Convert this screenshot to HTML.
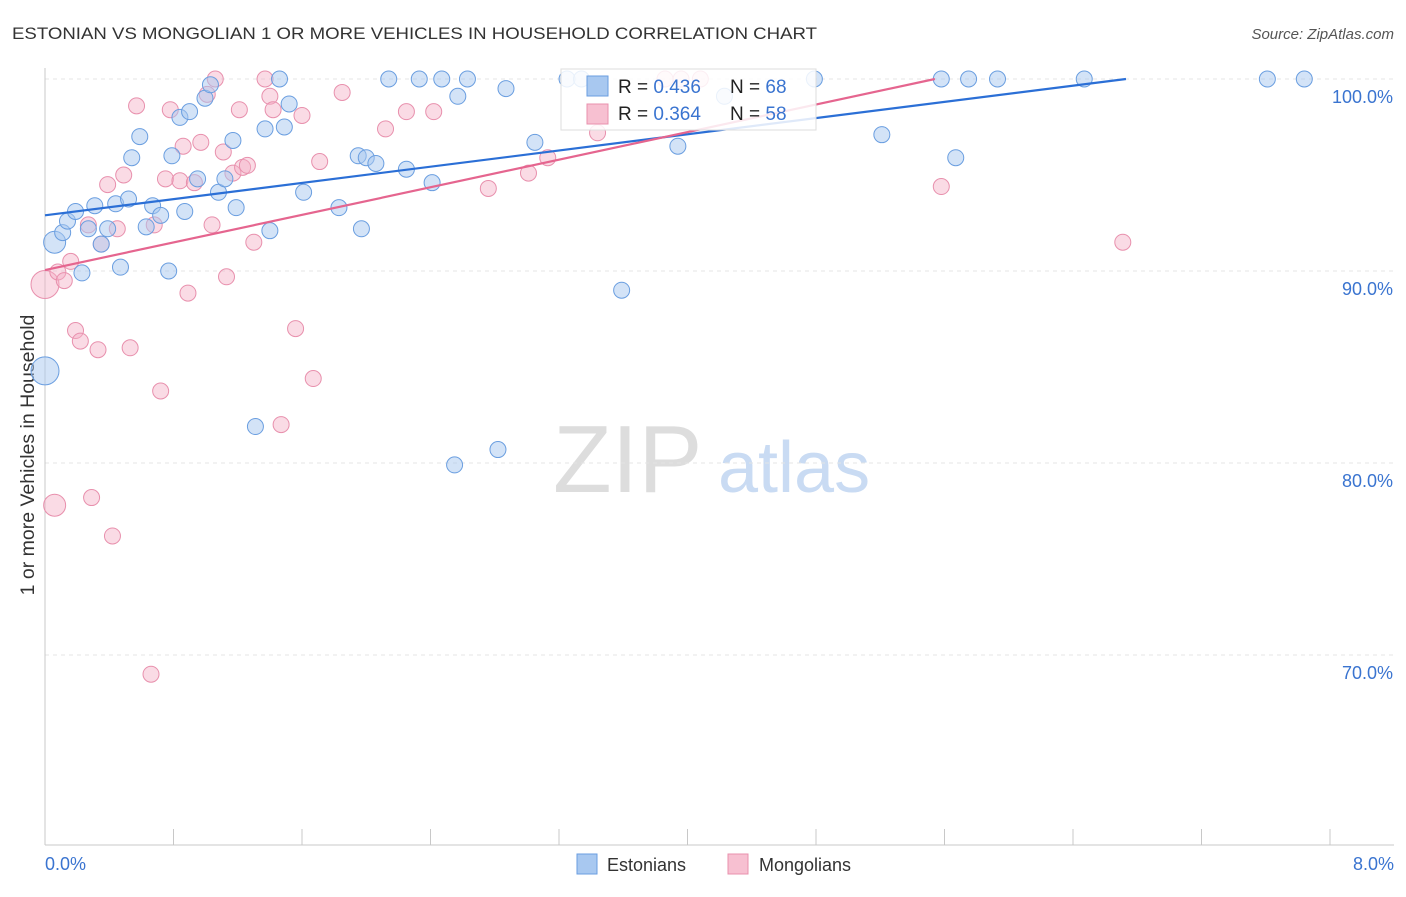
<!DOCTYPE html>
<html><head><meta charset="utf-8"><style>
body{margin:0;background:#fff;font-family:"Liberation Sans",sans-serif}
svg text{font-family:"Liberation Sans",sans-serif}
</style></head><body>
<svg id="c" width="1406" height="892">
<text x="12" y="39" font-size="17" fill="#333" textLength="805" lengthAdjust="spacingAndGlyphs">ESTONIAN VS MONGOLIAN 1 OR MORE VEHICLES IN HOUSEHOLD CORRELATION CHART</text>
<text x="1394" y="39" font-size="15" fill="#555" font-style="italic" text-anchor="end">Source: ZipAtlas.com</text>
<text transform="translate(34,455) rotate(-90)" font-size="19.5" fill="#333" text-anchor="middle">1 or more Vehicles in Household</text>
<g><text x="553" y="492" font-size="96" font-family="Liberation Serif" fill="#ddd">ZIP</text><text x="718" y="492" font-size="72" fill="#c9dbf3">atlas</text></g>
<g id="grid"></g><g id="pts"></g><g id="trend"></g>
<g>
<rect x="561" y="69" width="255" height="61" fill="#fff" fill-opacity="0.85" stroke="#ddd"/>
<rect x="587" y="76" width="21" height="20" fill="#a8c8f0" stroke="#6a9ee0"/>
<rect x="587" y="104" width="21" height="20" fill="#f7c0d1" stroke="#e890ad"/>
<text x="618" y="93" font-size="19" fill="#222">R = <tspan fill="#3a74d0">0.436</tspan></text>
<text x="730" y="93" font-size="19" fill="#222">N = <tspan fill="#3a74d0">68</tspan></text>
<text x="618" y="120" font-size="19" fill="#222">R = <tspan fill="#3a74d0">0.364</tspan></text>
<text x="730" y="120" font-size="19" fill="#222">N = <tspan fill="#3a74d0">58</tspan></text>
</g>
<g>
<rect x="577" y="854" width="20" height="20" fill="#a8c8f0" stroke="#6a9ee0"/>
<text x="607" y="871" font-size="18" fill="#333">Estonians</text>
<rect x="728" y="854" width="20" height="20" fill="#f7c0d1" stroke="#e890ad"/>
<text x="759" y="871" font-size="18" fill="#333">Mongolians</text>
</g>
</svg>
<script>
const xTicks=[0,0.8,1.6,2.4,3.2,4,4.8,5.6,6.4,7.2,8];
const yTicks=[100,90,80,70];
const yTickLabels=["100.0%","90.0%","80.0%","70.0%"];
const xEndLabels=["0.0%","8.0%"];
const blueX=[0.06,0,0.11,0.14,0.19,0.23,0.27,0.31,0.35,0.39,0.44,0.47,0.52,0.54,0.59,0.63,0.67,0.72,0.77,0.79,0.84,0.87,0.90,0.95,0.996,1.03,1.08,1.12,1.17,1.19,1.31,1.37,1.40,1.46,1.49,1.52,1.61,1.83,1.95,1.97,2.00,2.06,2.14,2.25,2.33,2.41,2.47,2.55,2.57,2.63,2.82,2.87,3.05,3.25,3.34,3.59,3.94,4.23,4.79,5.21,5.58,5.67,5.75,5.93,6.47,7.61,7.84];
const blueY=[91.5,84.8,92.0,92.6,93.1,89.9,92.2,93.4,91.4,92.2,93.5,90.2,93.75,95.9,97.0,92.3,93.4,92.9,90.0,96.0,98.0,93.1,98.3,94.8,99.0,99.7,94.1,94.8,96.8,93.3,81.9,97.4,92.1,100,97.5,98.7,94.1,93.3,96.0,92.2,95.9,95.6,100,95.3,100,94.6,100,79.9,99.1,100,80.7,99.5,96.7,100,100,89.0,96.5,99.1,100,97.1,100,95.9,100,100,100,100,100];
const blueR=[11,14];
const pinkX=[0,0.06,0.08,0.12,0.16,0.19,0.22,0.27,0.29,0.33,0.35,0.39,0.42,0.45,0.49,0.53,0.57,0.66,0.68,0.72,0.75,0.78,0.84,0.86,0.89,0.93,0.97,1.01,1.04,1.06,1.11,1.13,1.17,1.21,1.23,1.26,1.30,1.37,1.40,1.42,1.47,1.56,1.60,1.67,1.71,1.85,2.12,2.25,2.42,2.76,3.01,3.13,3.44,3.86,3.96,4.08,5.58,6.71];
const pinkY=[89.3,77.8,89.95,89.5,90.5,86.9,86.35,92.4,78.2,85.9,91.4,94.5,76.2,92.2,95.0,86.0,98.6,69.0,92.4,83.75,94.8,98.4,94.7,96.5,88.85,94.6,96.7,99.2,92.4,100,96.2,89.7,95.1,98.4,95.4,95.5,91.5,100,99.1,98.4,82.0,87.0,98.1,84.4,95.7,99.3,97.4,98.3,98.3,94.3,95.1,95.9,97.2,100,100,100,94.4,91.5];
const pinkR=[14,11];
const blueTrend=[92.9,1.055];
const pinkTrend=[90.05,1.796];
const X=v=>45+v/8*1285, Y=v=>79+(100-v)*19.2;
const NS='http://www.w3.org/2000/svg';
function mk(t,a,p){const e=document.createElementNS(NS,t);for(const k in a)e.setAttribute(k,a[k]);p.appendChild(e);return e;}
const grid=document.getElementById('grid');
yTicks.forEach((t,i)=>{
 const l=mk('line',{x1:45,x2:1394,y1:Y(t),y2:Y(t),stroke:'#e4e4e4','stroke-dasharray':'4,4'},grid);
 
 
 const tx=mk('text',{x:1393,y:Y(t)+24,'font-size':18,fill:'#3a74d0','text-anchor':'end'},grid);tx.textContent=yTickLabels[i];
 
 
});
const ax=mk('line',{x1:45,x2:45,y1:68,y2:845,stroke:'#c8c8c8'},grid);


const bx=mk('line',{x1:45,x2:1394,y1:845,y2:845,stroke:'#c8c8c8'},grid);


xTicks.forEach(t=>{const l=mk('line',{x1:X(t),x2:X(t),y1:829,y2:845,stroke:'#c8c8c8'},grid);
 
 });
[[0,'start',45],[8,'end',1394]].forEach((d,i)=>{const t=mk('text',{x:d[2],y:870,'font-size':18,fill:'#3a74d0','text-anchor':d[1]},grid);t.textContent=xEndLabels[i];
 
 });
const pts=document.getElementById('pts');
pinkX.forEach((x,i)=>{const c=mk('circle',{cx:X(x),cy:Y(pinkY[i]),r:pinkR[i]||8,fill:'#f4b0c6','fill-opacity':0.45,stroke:'#e890ad','stroke-width':1},pts);
 
 });
blueX.forEach((x,i)=>{const c=mk('circle',{cx:X(x),cy:Y(blueY[i]),r:blueR[i]||8,fill:'#a8c8f0','fill-opacity':0.5,stroke:'#6a9ee0','stroke-width':1},pts);
 
 });
const tr=document.getElementById('trend');
[[blueTrend,'#2b6fd6','estonian-trend-line'],[pinkTrend,'#e5658f','mongolian-trend-line']].forEach(d=>{
 const [b,m]=d[0];const xe=Math.min(8,(100-b)/m);
 const l=mk('line',{x1:X(0),y1:Y(b),x2:X(xe),y2:Y(b+m*xe),stroke:d[1],'stroke-width':2.2},tr);
 
 
});
</script>
</body></html>
